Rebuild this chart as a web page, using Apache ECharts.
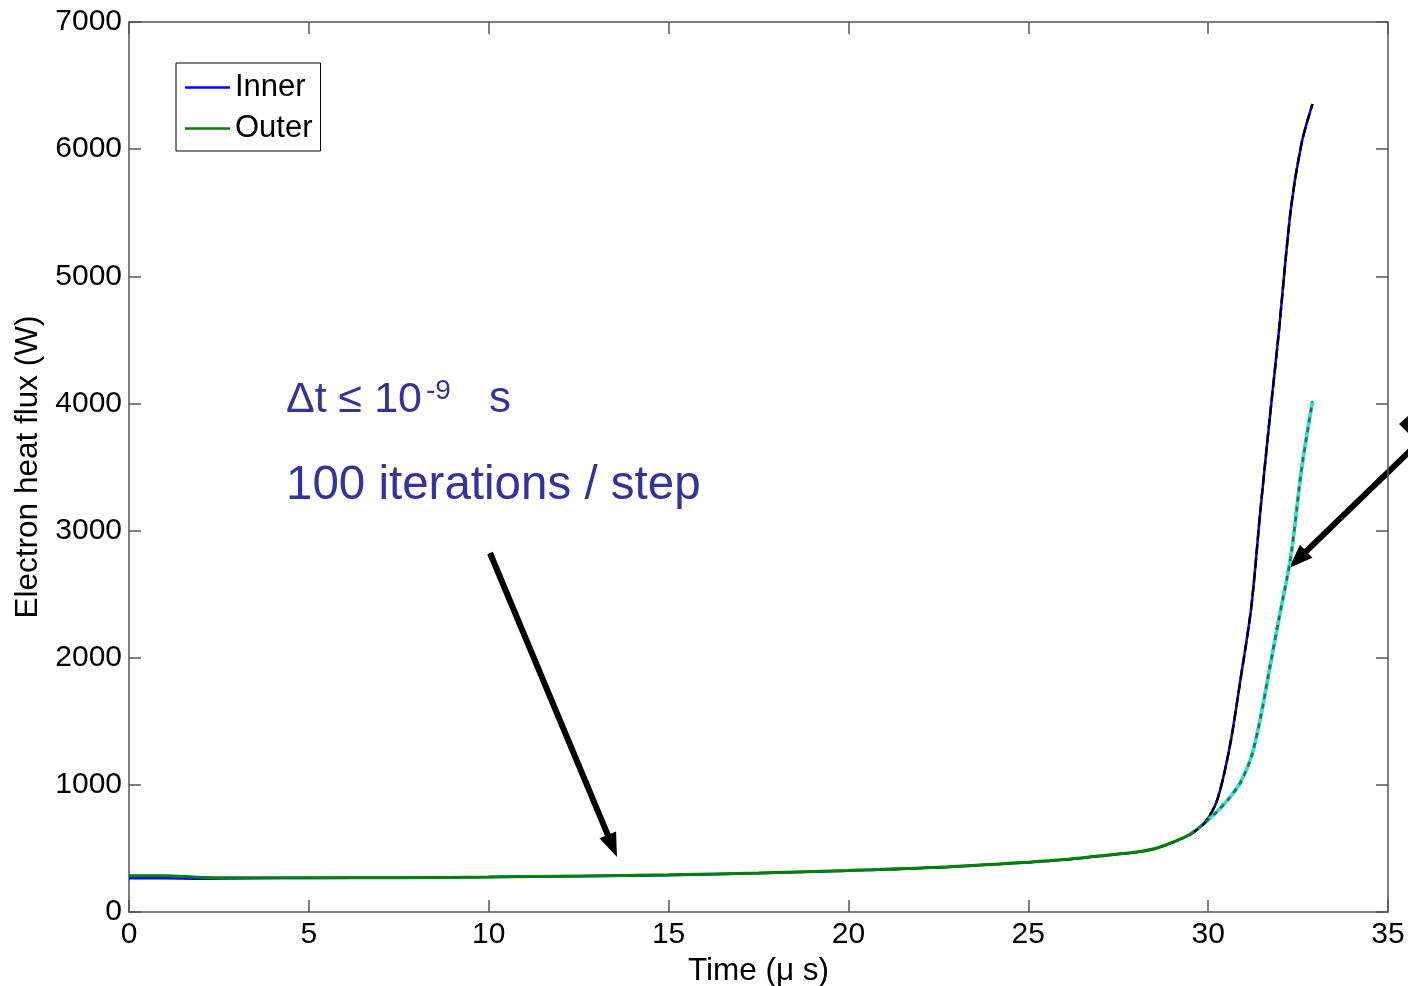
<!DOCTYPE html>
<html>
<head>
<meta charset="utf-8">
<title>Electron heat flux</title>
<script src="https://cdn.jsdelivr.net/npm/echarts@6/dist/echarts.min.js"></script>
<style>
  html, body { margin: 0; padding: 0; background: #fff; }
  #chart { width: 1408px; height: 986px; }
</style>
</head>
<body>
<div id="chart"></div>
<script>
// values
const timeUs = [0, 1, 2, 3.5, 5, 7.5, 10, 12.5, 15, 17.5, 20, 22.5, 25, 26, 27, 28, 28.5, 29, 29.5, 29.9,
  30.25, 30.6, 30.9, 31.2, 31.45, 31.7, 31.95, 32.3, 32.6, 32.9];
const innerFlux = [265, 265, 262, 265, 268, 270, 275, 282, 290, 305, 325, 350, 390, 410, 440, 470, 495, 545, 610, 700,
  880, 1300, 1830, 2400, 3150, 3850, 4520, 5530, 6050, 6355];
const outerFlux = [285, 285, 272, 270, 270, 270, 275, 283, 292, 307, 327, 352, 392, 412, 442, 472, 497, 547, 612, 700,
  790, 900, 1020, 1220, 1520, 1900, 2280, 2800, 3490, 4015];

// second (finer) run, only visible where the curves rise
const fineTime = [29.5, 29.9, 30.25, 30.6, 30.9, 31.2, 31.45, 31.7, 31.95, 32.3, 32.6, 32.9];
const fineInner = [610, 700, 880, 1300, 1830, 2400, 3150, 3850, 4520, 5530, 6050, 6355];
const fineOuter = [612, 700, 790, 900, 1020, 1220, 1520, 1900, 2280, 2800, 3490, 4015];

const xTicks = { min: 0, max: 35, interval: 5 };
const yTicks = { min: 0, max: 7000, interval: 1000 };

const pairs = (xs, ys) => xs.map((x, i) => [x, ys[i]]);

const font = "'Liberation Sans', Arial, Helvetica, sans-serif";
const axisColor = '#555';
const noteColor = '#333399';

const chart = echarts.init(document.getElementById('chart'));

function axisBase(extra) {
  return Object.assign({
    type: 'value',
    axisLine: { show: true, onZero: false, lineStyle: { color: axisColor, width: 1.5 } },
    axisTick: { show: true, inside: true, length: 12, lineStyle: { color: axisColor, width: 1.5 } },
    splitLine: { show: false },
    axisLabel: { fontSize: 30, color: '#000', fontFamily: font, formatter: (v) => String(v) }
  }, extra);
}

function arrow(x1, y1, x2, y2, headLen, headHalf) {
  const len = Math.hypot(x2 - x1, y2 - y1);
  const ux = (x2 - x1) / len, uy = (y2 - y1) / len;
  const bx = x2 - ux * headLen, by = y2 - uy * headLen;
  const px = -uy * headHalf, py = ux * headHalf;
  return [
    { type: 'line', shape: { x1, y1, x2: bx + ux * 2, y2: by + uy * 2 }, style: { stroke: '#000', lineWidth: 6 } },
    { type: 'polygon', shape: { points: [[x2, y2], [bx + px, by + py], [bx - px, by - py]] }, style: { fill: '#000' } }
  ];
}

const curve = { type: 'line', symbol: 'none', smooth: 0.3 };

const options = {
  animation: false,
  backgroundColor: '#fff',
  textStyle: { fontFamily: font },
  grid: { left: 129, right: 20, top: 22, bottom: 74, containLabel: false, outerBoundsMode: 'none' },
  legend: {
    data: ['Inner', 'Outer'],
    orient: 'vertical',
    left: 176,
    top: 63,
    padding: [9, 8, 7, 9],
    icon: 'rect',
    itemWidth: 45,
    itemHeight: 2.5,
    itemGap: 10,
    backgroundColor: '#fff',
    borderColor: '#000',
    borderWidth: 1,
    borderRadius: 0,
    textStyle: { fontSize: 31, color: '#000', fontFamily: font, padding: [0, 0, 0, 0] }
  },
  xAxis: [
    axisBase(Object.assign({}, xTicks, {
      position: 'bottom',
      name: 'Time (μ s)',
      nameLocation: 'middle',
      nameGap: 41,
      nameTextStyle: { fontSize: 31.5, color: '#000', fontFamily: font },
      axisLabel: { fontSize: 30, color: '#000', fontFamily: font, margin: 8, formatter: (v) => String(v) }
    })),
    axisBase(Object.assign({}, xTicks, { position: 'top', axisLabel: { show: false } }))
  ],
  yAxis: [
    axisBase(Object.assign({}, yTicks, {
      position: 'left',
      name: 'Electron heat flux (W)',
      nameLocation: 'middle',
      nameGap: 85,
      nameTextStyle: { fontSize: 31.5, color: '#000', fontFamily: font },
      axisLabel: { fontSize: 30, color: '#000', fontFamily: font, margin: 7, formatter: (v) => String(v) }
    })),
    axisBase(Object.assign({}, yTicks, { position: 'right', axisLabel: { show: false } }))
  ],
  series: [
    Object.assign({}, curve, {
      name: 'Inner', data: pairs(timeUs, innerFlux),
      lineStyle: { color: '#0000ff', width: 2.5 }, itemStyle: { color: '#0000ff' }
    }),
    Object.assign({}, curve, {
      name: 'Outer', data: pairs(timeUs, outerFlux),
      lineStyle: { color: '#008000', width: 3 }, itemStyle: { color: '#008000' }
    }),
    Object.assign({}, curve, {
      name: 'Outer fine', data: pairs(fineTime, fineOuter),
      lineStyle: { color: '#22e6e6', width: 3.5 }
    }),
    Object.assign({}, curve, {
      name: 'Inner fine', data: pairs(fineTime, fineInner),
      lineStyle: { color: '#000', width: 2.5, type: [10, 4] }
    }),
    Object.assign({}, curve, {
      name: 'Outer fine dash', data: pairs(fineTime, fineOuter),
      lineStyle: { color: '#3d6b3d', width: 2.5, type: [5, 5] }
    })
  ],
  graphic: [
    { type: 'text', style: { x: 286, y: 400, text: 'Δt ≤ 10', fill: noteColor, font: '43px ' + font, verticalAlign: 'middle' } },
    { type: 'text', style: { x: 426, y: 391, text: '-9', fill: noteColor, font: '28px ' + font, verticalAlign: 'middle' } },
    { type: 'text', style: { x: 489, y: 400, text: 's', fill: noteColor, font: '44px ' + font, verticalAlign: 'middle' } },
    { type: 'text', style: { x: 286, y: 486, text: '100 iterations / step', fill: noteColor, font: '47.5px ' + font, verticalAlign: 'middle' } },
    ...arrow(490, 553, 617, 857, 24, 9),
    ...arrow(1412, 449, 1289, 568, 24, 9),
    { type: 'polygon', shape: { points: [[1399, 424], [1409, 415], [1409, 434]] }, style: { fill: '#000' } }
  ]
};

chart.setOption(options);
</script>
</body>
</html>
